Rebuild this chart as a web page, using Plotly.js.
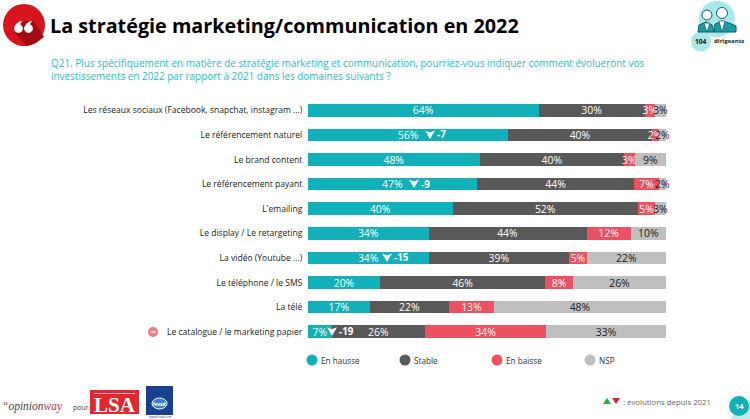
<!DOCTYPE html>
<html><head><meta charset="utf-8">
<script src="https://cdn.plot.ly/plotly-3.0.1.min.js"></script>
<style>html,body{margin:0;padding:0;background:#fff}#c{width:750px;height:419px}</style></head>
<body><div id="c"></div>
<script>
const categories = ["Les réseaux sociaux (Facebook, snapchat, instagram ...)","Le référencement naturel","Le brand content","Le référencement payant","L'emailing","Le display / Le retargeting","La vidéo (Youtube ...)","Le téléphone / le SMS","La télé","Le catalogue / le marketing papier"];
const enHausse = [64.4,56,48,47.2,40.4,33.7,33.7,20.2,17.3,6.7];
const stable   = [29.7,40,40.3,44,51.8,44.1,39.3,46.1,22.1,26];
const enBaisse = [2.9,2,3,6.8,4.8,12.4,4.9,7.8,12.6,33.9];
const nsp      = [3,2,8.7,2,3,9.8,22.1,25.9,48,33.4];
const seriesNames = ["En hausse","Stable","En baisse","NSP"];
const deltaRows = [1,3,6,9];
const deltaValues = ["-7","-9","-15","-19"];

const TEAL="#12B0B8",DARK="#595959",RED="#EB5160",GREY="#BFBFBF";
const FONT="'Open Sans', sans-serif";
const W=750,H=419,L=308,R=666,T=98,B=344;
const px=x=>(x-L)/(R-L), py=y=>(B-y)/(B-T);
const pct=x=>Math.round(x)+"%";
const bar=(name,vals,color,tc)=>({type:"bar",orientation:"h",name,y:categories,x:vals,
  marker:{color},text:vals.map(pct),textposition:"inside",insidetextanchor:"middle",constraintext:"none",textangle:0,
  cliponaxis:false,textfont:{family:FONT,size:10.4,color:tc},hoverinfo:"x+y+name",showlegend:false});
const traces=[bar(seriesNames[0],enHausse,TEAL,"#fff"),bar(seriesNames[1],stable,DARK,"#fff"),bar(seriesNames[2],enBaisse,RED,"#fff"),bar(seriesNames[3],nsp,GREY,"#222")];

const shapes=[],ann=[];
const circ=(cx,cy,r,fill,line)=>shapes.push({type:"circle",xref:"paper",yref:"paper",x0:px(cx-r),x1:px(cx+r),y0:py(cy+r),y1:py(cy-r),fillcolor:fill,line:line||{width:0},layer:"above"});
const rect=(x0,y0,x1,y1,fill,line)=>shapes.push({type:"rect",xref:"paper",yref:"paper",x0:px(x0),x1:px(x1),y0:py(y1),y1:py(y0),fillcolor:fill,line:line||{width:0},layer:"above"});
const poly=(pts,fill,line)=>shapes.push({type:"path",xref:"paper",yref:"paper",path:"M"+pts.map(p=>px(p[0])+","+py(p[1])).join(" L")+" Z",fillcolor:fill,line:line||{width:0},layer:"above"});
const txt=(x,y,text,size,color,anchor,extra)=>ann.push(Object.assign({xref:"paper",yref:"paper",x:px(x),y:py(y),text,showarrow:false,xanchor:anchor||"left",yanchor:"middle",align:"left",font:{family:FONT,size,color}},extra||{}));

// subtitle
txt(48.5,69,"Q21. Plus spécifiquement en matière de stratégie marketing et communication, pourriez-vous indiquer comment évolueront vos<br>investissements en 2022 par rapport à 2021 dans les domaines suivants ?",9.95,"#2BBEC6");

// quote badge
circ(24,25,21,"#D8141E");
poly([[15,33],[24,21],[34,21],[44,37],[36,43],[27,46]],"#A30A12");
[18.5,28.5].forEach(c=>{
  circ(c,28.5,4.4,"#fff");
  poly([[c-4.3,28],[c-2.5,24],[c+1,21.5],[c+3.5,21],[c+1,25],[c+1,26]],"#fff");
});

// respondents badge
circ(717,19,18,"#A9E8EA");
circ(701,41.5,10,"#A9E8EA");
const ic="#0E5F68";
poly([[698,32],[699,25],[706,22],[712,25],[714,32]],"#1A9CA6",{color:ic,width:1});
poly([[714,32],[715,24],[722,21],[729,23],[736,26],[736,32]],"#1A9CA6",{color:ic,width:1});
circ(707,15,5,"#fff",{color:ic,width:1});
circ(722,13,5.5,"#fff",{color:ic,width:1});
poly([[704,23],[710,23],[707,32]],"#fff",{color:ic,width:.7});
poly([[719,21],[725,21],[722,32]],"#fff",{color:ic,width:.7});
txt(700.5,41.5,"<b>104</b>",6.6,"#111","center");
txt(711.5,41,"<b>dirigeants</b>",6,"#222");

// minus marker on last row
circ(153,332,5,"#EE7C84");
rect(150.5,331.4,155.5,332.7,"#fff");

// evolution markers in the bars: chevron + value
const deltaArrowPx=[430,414,387,332];
deltaRows.forEach((r,i)=>{
  const cx=deltaArrowPx[i],cy=T+(r+.5)*(B-T)/categories.length;
  poly([[cx-5,cy-4.5],[cx,cy-2.5],[cx+5,cy-4.5],[cx,cy+4]],"#fff");
  txt(cx+4.5,cy,"<b>"+deltaValues[i]+"</b>",9.8,"#fff");
});

// legend
const lx=[312,405,497,590],lc=[TEAL,DARK,RED,GREY];
seriesNames.forEach((n,i)=>{circ(lx[i],360,5.5,lc[i]);txt(lx[i]+7,360,n,8.2,"#333");});

// footer
txt(0,406,"<i><span style='color:#D8323A'>“</span>opinion<span style='color:#D8323A'>way</span></i>",12,"#444","left",{font:{family:"'Liberation Serif',serif",size:11.5,color:"#444"}});
txt(71,407,"pour",7,"#444");
rect(90,390,139,414,"#E0282E");
rect(94,393,135,394,"#F6B5B7");
txt(114.5,404.5,"<b>LSA</b>",20,"#fff","center",{font:{family:"'Liberation Serif',serif",size:21,color:"#fff"}});
rect(146,386,173,415,"#17418F");
shapes.push({type:"circle",xref:"paper",yref:"paper",x0:px(152),x1:px(167),y0:py(409),y1:py(398),fillcolor:"#3F7FC0",line:{color:"#fff",width:1},layer:"above"});
txt(159.5,403.5,"<b>fevad</b>",4.5,"#fff","center");
txt(159.5,417,"www.fevad.com",3,"#17418F","center");

// evolution key
poly([[603,404],[607,398],[611,404]],"#1FAF55");
poly([[612,398],[620,398],[616,404]],"#E3202A");
txt(621,401.5,": évolutions depuis 2021",7.8,"#666");

// page number
poly([[730,419],[750,419],[750,398]],"#BDEBEC");
circ(739,406,10,TEAL);
txt(739,406,"<b>14</b>",7.5,"#fff","center");

const layout={width:W,height:H,margin:{l:L,r:W-R,t:T,b:H-B,pad:0},paper_bgcolor:"#fff",plot_bgcolor:"#fff",
  barmode:"stack",bargap:.49,showlegend:false,
  title:{text:"<b>La stratégie marketing/communication en 2022</b>",x:50/W,xanchor:"left",y:1-26/H,yanchor:"middle",font:{family:FONT,size:19.8,color:"#000"}},
  xaxis:{range:[0,100.001],visible:false,fixedrange:true},
  yaxis:{type:"category",categoryorder:"array",categoryarray:categories,autorange:false,range:[9.5,-.5],showline:false,showgrid:false,zeroline:false,ticks:"outside",ticklen:3,tickcolor:"rgba(0,0,0,0)",tickfont:{family:FONT,size:8.55,color:"#222"},automargin:false,fixedrange:true},
  shapes,annotations:ann};
Plotly.newPlot("c",traces,layout,{displayModeBar:false,staticPlot:true});
</script></body></html>
